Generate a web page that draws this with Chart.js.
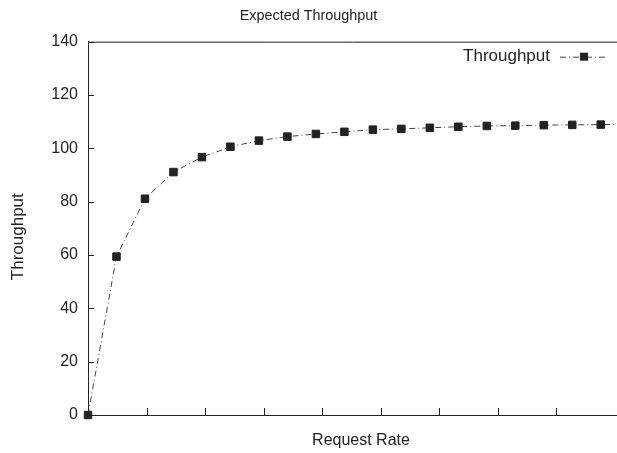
<!DOCTYPE html>
<html>
<head>
<meta charset="utf-8">
<script src="https://cdn.jsdelivr.net/npm/chart.js@4.4.0/dist/chart.umd.min.js"></script>
<style>
  html, body { margin: 0; padding: 0; background: #fff; }
  #wrap { width: 617px; height: 453px; }
</style>
</head>
<body>
<div id="wrap"><canvas id="throughputChart"></canvas></div>
<script>
// request rate steps (x) and measured throughput (y)
const requestRate = [0, 1, 2, 3, 4, 5, 6, 7, 8, 9, 10, 11, 12, 13, 14, 15, 16, 17, 18, 19];
const throughput = [0, 59.4, 81.1, 91.1, 96.7, 100.6, 102.9, 104.4, 105.4, 106.2,
  107.0, 107.3, 107.7, 108.1, 108.4, 108.5, 108.7, 108.8, 108.9, 109.0];
const yTicks = [0, 20, 40, 60, 80, 100, 120, 140];
const xTickStep = 2.054;
const xMax = 18.57;
const xTitle = "Request Rate";
const yTitle = "Throughput";

const ink = "#222";
const family = "'Liberation Sans', Arial, sans-serif";

// gnuplot-ish extras: inward tick marks, top border, axis titles, legend inside the plot
const gnuplotLook = {
  id: "gnuplotLook",
  afterDraw(chart) {
    const { ctx, chartArea: a, scales } = chart;
    ctx.save();
    ctx.strokeStyle = ink;
    ctx.lineWidth = 1;
    ctx.beginPath();
    ctx.moveTo(a.left, a.top + 0.5);
    ctx.lineTo(a.right, a.top + 0.5);
    scales.y.ticks.forEach((t) => {
      const py = Math.round(scales.y.getPixelForValue(t.value)) + 0.5;
      ctx.moveTo(a.left, py);
      ctx.lineTo(a.left + 6, py);
    });
    scales.x.ticks.forEach((t) => {
      const px = Math.round(scales.x.getPixelForValue(t.value)) + 0.5;
      ctx.moveTo(px, a.bottom);
      ctx.lineTo(px, a.bottom - 7);
    });
    ctx.stroke();

    ctx.fillStyle = ink;
    ctx.textBaseline = "middle";
    ctx.textAlign = "center";
    ctx.font = "16px " + family;
    ctx.fillText(xTitle, a.left + 273, 441);
    ctx.save();
    ctx.translate(18.5, a.top + 195);
    ctx.rotate(-Math.PI / 2);
    ctx.font = "17px " + family;
    ctx.fillText(yTitle, 0, 0);
    ctx.restore();

    // legend
    const ds = chart.data.datasets[0];
    const ly = a.top + 15;
    ctx.font = "17px " + family;
    ctx.textAlign = "right";
    ctx.fillText(ds.label, 550, ly);
    ctx.strokeStyle = ds.borderColor;
    ctx.setLineDash(ds.borderDash);
    ctx.beginPath();
    ctx.moveTo(560, ly + 0.5);
    ctx.lineTo(608, ly + 0.5);
    ctx.stroke();
    ctx.setLineDash([]);
    ctx.fillStyle = ds.pointBackgroundColor;
    ctx.fillRect(580, ly - 4, 8, 8);
    ctx.restore();
  }
};

new Chart(document.getElementById("throughputChart"), {
  type: "line",
  data: {
    datasets: [{
      label: "Throughput",
      data: requestRate.map((r, i) => ({ x: r, y: throughput[i] })),
      borderColor: "#444",
      borderWidth: 1,
      borderDash: [6, 3, 1, 3],
      pointStyle: "rect",
      pointRadius: 5.3,
      pointBorderWidth: 1,
      pointBackgroundColor: ink,
      pointBorderColor: ink,
      tension: 0,
      clip: false
    }]
  },
  options: {
    responsive: true,
    maintainAspectRatio: false,
    animation: false,
    layout: { padding: 0, autoPadding: false },
    plugins: {
      legend: { display: false },
      tooltip: { enabled: false },
      title: {
        display: true,
        text: "Expected Throughput",
        color: ink,
        font: { family: family, size: 14.4, weight: "normal" },
        padding: { top: 7.5, bottom: 16.9 }
      }
    },
    scales: {
      x: {
        type: "linear",
        min: 0,
        max: xMax,
        ticks: { display: false, stepSize: xTickStep },
        afterBuildTicks: (s) => { s.ticks = s.ticks.filter((t) => t.value < xMax - 0.1); },
        grid: { display: false, drawTicks: false },
        border: { display: true, color: ink, width: 1 },
        afterFit: (s) => { s.height = 38; }
      },
      y: {
        min: 0,
        max: 140,
        afterBuildTicks: (s) => { s.ticks = yTicks.map((v) => ({ value: v })); },
        ticks: { color: ink, font: { family: family, size: 16 }, padding: 10 },
        grid: { display: false, drawTicks: false },
        border: { display: true, color: ink, width: 1 },
        afterFit: (s) => { s.width = 88; }
      }
    }
  },
  plugins: [gnuplotLook]
});
</script>
</body>
</html>
